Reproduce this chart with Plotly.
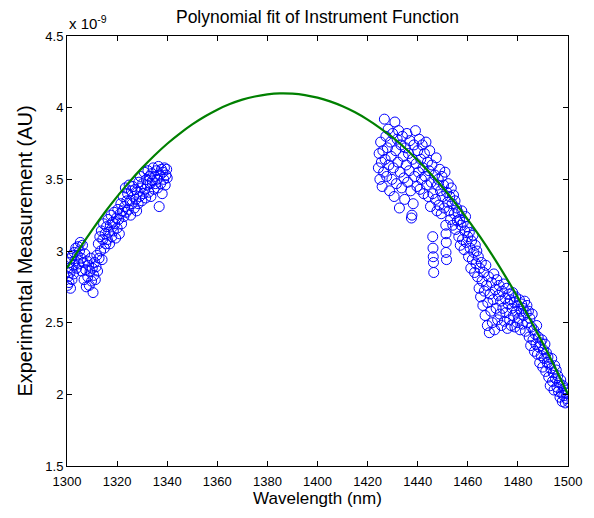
import plotly.graph_objects as go

# Measured data (signal in units of 1e-9 AU)
wavelength_left = [1300.2,1300.4,1300.6,1300.8,1301.0,1301.2,1301.4,1301.6,1301.8,1302.0,1302.2,1302.4,
 1302.6,1302.9,1303.2,1303.5,1303.8,1304.1,1304.4,1304.7,
 1305.0,1305.3,1305.6,1305.9,1306.2,1306.5,1306.8,1307.1,1307.4,1307.7,
 1308.0,1308.3,1308.6,1308.9,1309.2,1309.5,1309.8,1310.1,1310.4,1310.7,1311.0,1311.3,1311.6,1311.9,
 1312.2,1312.5,1312.8,1313.1,1313.4,1313.7,1314.0,1314.3,1314.6,1314.9,1315.2,1315.5,
 1315.8,1316.1,1316.4,1316.7,1317.0,1317.3,1317.6,1317.9,1318.2,1318.5,1318.8,1319.1,1319.4,1319.7,
 1320.0,1320.3,1320.6,1320.9,1321.2,1321.5,1321.8,1322.1,1322.4,1322.7,1323.0,1323.3,1323.6,1323.9,
 1324.2,1324.5,1324.8,1325.1,1325.4,1325.7,1326.0,1326.3,1326.6,1326.9,1327.2,1327.5,1327.8,
 1328.1,1328.4,1328.7,1329.0,1329.3,1329.6,1329.9,1330.2,1330.5,1330.8,1331.1,1331.4,1331.7,
 1332.0,1332.3,1332.6,1332.9,1333.2,1333.5,1333.8,1334.1,1334.4,1334.7,1335.0,1335.3,1335.6,
 1335.9,1336.2,1336.5,1336.8,1337.1,1337.4,1337.7,1338.0,1338.3,1338.6,1338.9,1339.2,1339.5,1339.8,1340.0]
signal_left = [2.76,2.82,2.88,2.78,2.92,2.85,2.74,2.95,2.88,2.80,2.97,2.90,
 2.84,2.99,2.93,3.02,2.88,2.97,3.03,2.91,
 3.00,3.06,2.95,2.86,3.04,2.92,2.80,2.98,2.87,2.75,
 2.93,2.82,2.90,2.76,2.86,2.95,2.79,2.88,2.71,2.83,2.92,2.80,2.89,2.97,
 2.86,3.05,2.95,3.10,3.00,3.14,2.94,3.08,3.19,3.02,3.12,3.05,
 3.17,3.08,3.22,3.13,3.05,3.18,3.25,3.10,3.20,3.14,3.27,3.19,3.09,3.23,
 3.16,3.29,3.22,3.12,3.26,3.33,3.19,3.28,3.38,3.24,3.31,3.44,3.27,3.35,
 3.40,3.29,3.46,3.35,3.25,3.42,3.33,3.45,3.38,3.30,3.43,3.36,3.28,
 3.41,3.33,3.48,3.38,3.52,3.44,3.35,3.47,3.40,3.55,3.43,3.37,3.50,
 3.46,3.56,3.41,3.52,3.47,3.38,3.54,3.49,3.58,3.43,3.52,3.47,3.56,
 3.50,3.44,3.59,3.31,3.53,3.47,3.57,3.40,3.55,3.50,3.58,3.46,3.53,3.57,3.51]

wavelength_right = [1424.3,1424.6,1424.9,1425.2,1425.5,1425.8,1426.1,1426.4,1426.7,1427.0,1427.3,1427.6,1427.9,
 1428.2,1428.5,1428.8,1429.1,1429.4,1429.7,1430.0,1430.3,1430.6,1430.9,1431.2,1431.5,1431.8,
 1432.1,1432.4,1432.7,1433.0,1433.3,1433.6,1433.9,1434.2,1434.5,1434.8,1435.1,1435.4,1435.7,
 1436.0,1436.3,1436.6,1436.9,1437.2,1437.5,1437.7,1437.9,1438.2,1438.5,1438.8,1439.1,1439.4,1439.7,
 1440.0,1440.3,1440.6,1440.9,1441.2,1441.5,1441.8,1442.1,1442.4,1442.7,1443.0,1443.3,1443.6,
 1443.9,1444.2,1444.5,1444.8,1445.1,1445.4,1445.7,1446.0,1446.8,1447.1,1447.4,1447.7,1447.9,
 1446.0,1446.1,1446.2,1446.3,1446.4,
 1451.2,1451.3,1451.4,1451.3,1451.5,
 1448.2,1448.5,1448.8,1449.1,1449.4,1449.7,1450.0,1450.3,1450.6,1450.9,1451.6,1451.9,
 1452.2,1452.5,1452.8,1453.1,1453.4,1453.7,1454.0,1454.3,1454.6,1454.9,1455.2,1455.5,1455.8,
 1456.1,1456.4,1456.7,1457.0,1457.3,1457.6,1457.9,1458.2,1458.5,1458.8,1459.1,1459.4,1459.7,
 1460.0,1460.3,1460.6,1460.9,1461.2,1461.5,1461.8,1462.1,1462.4,1462.7,1463.0,1463.3,1463.6,
 1463.9,1464.2,1464.5,1464.8,1465.1,1465.4,1465.7,1466.0,1466.3,1466.6,1466.9,1467.2,1467.5,1467.8,1468.0,
 1468.3,1468.6,1468.9,1469.2,1469.5,1469.8,1470.1,1470.4,1470.7,1471.0,1471.3,1471.6,1471.9,
 1472.2,1472.5,1472.8,1473.1,1473.4,1473.7,1474.0,1474.3,1474.6,1474.9,1475.2,1475.5,1475.8,
 1476.1,1476.4,1476.7,1477.0,1477.3,1477.6,1477.9,1478.2,1478.5,1478.8,1479.1,1479.4,1479.7,
 1480.0,1480.3,1480.6,1480.9,1481.2,1481.5,1481.8,1482.1,1482.4,1482.7,1483.0,1483.3,1483.6,
 1483.9,1484.2,1484.5,1484.8,1485.1,1485.4,1485.7,1486.0,1486.3,1486.6,1486.9,1487.2,1487.5,
 1487.8,1488.1,1488.4,1488.7,1489.0,1489.3,1489.6,1489.9,1490.2,1490.5,1490.8,1491.1,1491.4,1491.7,
 1492.0,1492.3,1492.6,1492.9,1493.2,1493.5,1493.8,1494.1,1494.4,1494.7,1495.0,1495.3,1495.6,
 1495.9,1496.2,1496.5,1496.8,1497.1,1497.4,1497.7,1498.0,1498.3,1498.6,1498.9,1499.2,1499.5,1499.8,1500.0]
signal_right = [3.58,3.68,3.50,3.76,3.62,3.45,3.70,3.55,3.92,3.64,3.80,3.52,3.72,
 3.85,3.60,3.42,3.76,3.66,3.50,3.82,3.58,3.38,3.90,3.70,3.47,3.78,
 3.62,3.84,3.30,3.55,3.74,3.44,3.80,3.66,3.51,3.36,3.72,3.60,3.82,
 3.48,3.68,3.56,3.77,3.42,3.23,3.25,3.64,3.33,3.74,3.52,3.84,3.61,3.45,
 3.70,3.55,3.78,3.43,3.64,3.50,3.74,3.58,3.40,3.68,3.52,3.76,3.46,
 3.62,3.38,3.56,3.70,3.31,3.48,3.60,3.40,3.53,3.36,3.65,3.28,3.46,
 3.10,3.02,2.96,2.92,2.85,
 3.18,3.12,3.06,2.99,2.94,
 3.50,3.32,3.57,3.42,3.26,3.52,3.38,3.46,3.30,3.55,3.41,3.34,
 3.47,3.28,3.38,3.22,3.44,3.33,3.18,3.39,3.26,3.35,3.15,3.30,3.21,
 3.27,3.10,3.22,3.04,3.18,3.28,3.08,3.20,3.01,3.14,3.24,3.06,3.17,
 3.10,2.96,3.13,3.02,2.88,3.07,2.94,3.11,2.99,2.85,3.04,2.91,3.00,
 2.82,2.96,2.74,2.88,2.68,2.92,2.79,2.62,2.85,2.72,2.55,2.90,2.76,2.48,2.64,
 2.82,2.43,2.70,2.58,2.78,2.50,2.66,2.84,2.45,2.73,2.60,2.80,2.52,
 2.69,2.76,2.56,2.65,2.48,2.72,2.60,2.77,2.51,2.67,2.57,2.74,2.46,
 2.63,2.70,2.52,2.66,2.48,2.60,2.71,2.55,2.64,2.47,2.68,2.58,2.50,
 2.62,2.53,2.66,2.45,2.58,2.63,2.49,2.60,2.55,2.65,2.44,2.57,2.62,
 2.50,2.58,2.40,2.53,2.34,2.47,2.56,2.38,2.45,2.30,2.42,2.35,2.48,
 2.28,2.40,2.33,2.22,2.36,2.27,2.38,2.19,2.31,2.25,2.35,2.16,2.29,2.22,
 2.26,2.12,2.21,2.06,2.18,2.25,2.09,2.15,2.03,2.20,2.11,2.17,2.05,
 2.13,2.02,2.08,1.98,2.10,2.01,1.95,2.06,1.99,2.04,1.94,2.01,1.97,2.03,1.95]

# Polynomial fit curve
fit_wavelength = [1300,1305,1310,1315,1320,1325,1330,1335,1340,1345,1350,1355,1360,1365,1370,1375,1380,
                  1385,1390,1395,1400,1405,1410,1415,1420,1425,1430,1435,1440,1445,1450,1455,1460,
                  1465,1470,1475,1480,1485,1490,1495,1500]
fit_signal = [2.880,3.017,3.146,3.267,3.379,3.484,3.580,3.668,3.748,3.819,3.883,3.938,3.986,4.025,4.056,
              4.078,4.093,4.100,4.098,4.088,4.070,4.044,4.010,3.968,3.917,3.858,3.792,3.717,3.633,
              3.542,3.443,3.335,3.219,3.096,2.964,2.823,2.675,2.519,2.354,2.181,2.000]

x_ticks = [1300,1320,1340,1360,1380,1400,1420,1440,1460,1480,1500]
y_ticks = [1.5,2,2.5,3,3.5,4,4.5]
y_tick_text = ["1.5","2","2.5","3","3.5","4","4.5"]

FONT = "Liberation Sans, Arial, sans-serif"

fig = go.Figure()
fig.add_trace(go.Scatter(
    x=wavelength_left + wavelength_right,
    y=signal_left + signal_right,
    mode="markers",
    marker=dict(symbol="circle-open", size=10, color="#0000ff", line=dict(width=1)),
    showlegend=False,
))
fig.add_trace(go.Scatter(
    x=fit_wavelength, y=fit_signal, mode="lines",
    line=dict(color="#008000", width=2.2, shape="spline"),
    showlegend=False,
))

axis_common = dict(
    showgrid=False, zeroline=False, showline=True, linecolor="black", linewidth=1,
    mirror="ticks", ticks="inside", ticklen=5, tickcolor="black",
    tickfont=dict(family=FONT, size=13, color="black"),
)
fig.update_xaxes(range=[1300, 1500], tickvals=x_ticks, ticklabelstandoff=3,
                 title=dict(text="Wavelength (nm)", font=dict(family=FONT, size=17, color="black"), standoff=4),
                 **axis_common)
fig.update_yaxes(range=[1.5, 4.5], tickvals=y_ticks, ticktext=y_tick_text,
                 title=dict(text="Experimental Measurement (AU)", font=dict(family=FONT, size=20, color="black"), standoff=7),
                 **axis_common)

fig.update_layout(
    width=594, height=518,
    margin=dict(l=67, r=26, t=36, b=52),
    paper_bgcolor="white", plot_bgcolor="white",
    title=dict(text="Polynomial fit of Instrument Function", x=0.5, xref="paper",
               y=1 - 17 / 518, yref="container", yanchor="middle",
               font=dict(family=FONT, size=17.5, color="black")),
    annotations=[dict(text="x 10<sup>-9</sup>", xref="paper", yref="paper", x=0, y=1,
                      xanchor="left", yanchor="bottom", showarrow=False, yshift=2,
                      font=dict(family=FONT, size=15, color="black"))],
)

fig.write_html("out.html")
